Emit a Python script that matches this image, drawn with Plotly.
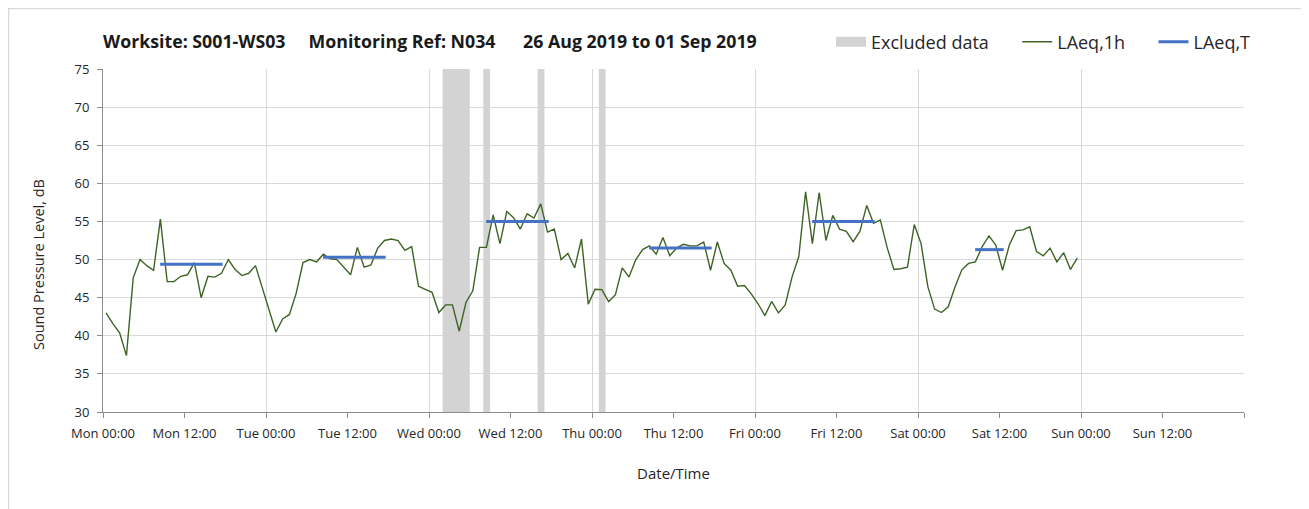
import pandas as pd
import plotly.graph_objects as go

# ---------------- data ----------------
start_time = "2019-08-26 00:27"
laeq_1h = [
    43.0, 41.6, 40.4, 37.4, 47.6, 50.0, 49.2, 48.6, 55.3, 47.1, 47.1, 47.8,
    48.0, 49.6, 45.0, 47.8, 47.7, 48.2, 50.0, 48.7, 47.9, 48.2, 49.2, 46.4,
    43.5, 40.5, 42.2, 42.8, 45.6, 49.6, 50.0, 49.7, 50.7, 50.1, 50.0, 49.0,
    48.0, 51.6, 49.0, 49.3, 51.5, 52.5, 52.7, 52.5, 51.2, 51.7, 46.5, 46.1,
    45.7, 43.05, 44.05, 44.05, 40.6, 44.4, 45.9, 51.6, 51.6, 55.85, 52.1, 56.3,
    55.5, 54.0, 56.0, 55.45, 57.3, 53.6, 54.0, 50.0, 50.8, 48.9, 52.7, 44.15,
    46.1, 46.05, 44.5, 45.4, 48.9, 47.7, 50.0, 51.3, 51.8, 50.7, 52.9, 50.5,
    51.5, 52.0, 51.8, 51.8, 52.3, 48.6, 52.3, 49.5, 48.6, 46.5, 46.6, 45.5,
    44.2, 42.65, 44.5, 43.0, 44.06, 47.7, 50.4, 58.9, 52.1, 58.8, 52.5, 55.8,
    54.0, 53.7, 52.35, 53.7, 57.1, 54.75, 55.2, 51.6, 48.7, 48.8, 49.0, 54.6,
    52.1, 46.45, 43.5, 43.05, 43.8, 46.4, 48.65, 49.5, 49.7, 51.7, 53.1, 51.9,
    48.6, 51.9, 53.8, 53.9, 54.3, 51.05, 50.5, 51.5, 49.7, 50.9, 48.7, 50.2,
]
laeq_1h_times = pd.date_range(start_time, periods=len(laeq_1h), freq="h")

laeq_t_start = ["2019-08-26 08:25", "2019-08-27 08:25", "2019-08-28 08:25",
                "2019-08-29 08:25", "2019-08-30 08:25", "2019-08-31 08:25"]
laeq_t_end = ["2019-08-26 17:37", "2019-08-27 17:37", "2019-08-28 17:37",
              "2019-08-29 17:37", "2019-08-30 17:37", "2019-08-31 12:37"]
laeq_t_values = [49.4, 50.3, 55.0, 51.5, 55.0, 51.3]

excluded_start = ["2019-08-28 02:00", "2019-08-28 08:00", "2019-08-28 16:00", "2019-08-29 01:00"]
excluded_hours = [4, 1, 1, 1]

x_range = ["2019-08-26 00:00", "2019-09-02 00:00"]
tick_times = pd.date_range("2019-08-26 00:00", "2019-09-02 00:00", freq="12h")
tick_labels = ["Mon 00:00", "Mon 12:00", "Tue 00:00", "Tue 12:00", "Wed 00:00",
               "Wed 12:00", "Thu 00:00", "Thu 12:00", "Fri 00:00", "Fri 12:00",
               "Sat 00:00", "Sat 12:00", "Sun 00:00", "Sun 12:00", ""]
y_min, y_max = 30, 75

NB = "\u00a0"
title_text = ("Worksite: S001-WS03" + NB * 5 + "Monitoring Ref: N034"
              + NB * 6 + "26 Aug 2019 to 01 Sep 2019")
y_title = "Sound Pressure Level, dB"
x_title = "Date/Time"

# ---------------- styling ----------------
FONT = "Open Sans"
GREEN = "#3E6325"
BLUE = "#4472C4"
GREY_FILL = "#D3D3D3"
GRID = "#D9D9D9"
AXIS = "#8C8C8C"
TEXT = "#262626"

W, H = 1301, 501
L, R, T, B = 95, 65, 61, 97
PW, PH = W - L - R, H - T - B

fig = go.Figure()

# Excluded data bars (legend shown via a wide-line proxy entry)
fig.add_trace(go.Bar(
    x=pd.to_datetime(excluded_start),
    y=[y_max - y_min] * len(excluded_start),
    base=y_min,
    width=[h * 3600 * 1000 for h in excluded_hours],
    offset=0,
    marker=dict(color=GREY_FILL, line=dict(width=0)),
    name="Excluded data", legendgroup="excl", showlegend=False,
    hoverinfo="skip",
))
fig.add_trace(go.Scatter(
    x=[None], y=[None], mode="lines",
    line=dict(color=GREY_FILL, width=12),
    name="Excluded data" + NB * 5, legendgroup="excl",
))

fig.add_trace(go.Scatter(
    x=laeq_1h_times, y=laeq_1h, mode="lines",
    line=dict(color=GREEN, width=1.4),
    name="LAeq,1h" + NB * 5,
))

bx, by = [], []
for s, e, v in zip(laeq_t_start, laeq_t_end, laeq_t_values):
    bx += [pd.Timestamp(s), pd.Timestamp(e), None]
    by += [v, v, None]
fig.add_trace(go.Scatter(
    x=bx, y=by, mode="lines",
    line=dict(color=BLUE, width=3),
    name="LAeq,T",
))

fig.add_trace(go.Scatter(
    x=[pd.Timestamp(x_range[0])], y=[None], xaxis="x2", mode="lines",
    showlegend=False, hoverinfo="skip",
))

fig.update_layout(
    width=W, height=H,
    paper_bgcolor="white", plot_bgcolor="white",
    margin=dict(l=L, r=R, t=T, b=B, autoexpand=False),
    font=dict(family=FONT, color=TEXT),
    barmode="overlay",
    title=dict(text="<b>" + title_text + "</b>", x=L / W, xanchor="left",
               y=1 - 34 / H, yanchor="middle", font=dict(size=17.75, color="#1a1a1a")),
    legend=dict(orientation="h", x=1.0105, xanchor="right", y=1.0787, yanchor="middle",
                font=dict(size=18, color=TEXT), bgcolor="rgba(0,0,0,0)",
                traceorder="normal", itemwidth=30),
    xaxis=dict(
        type="date", range=x_range, automargin=False,
        tickvals=tick_times, ticktext=tick_labels,
        ticks="outside", ticklen=5, tickcolor=AXIS, ticklabelstandoff=4,
        showline=True, linecolor=AXIS, linewidth=1,
        showgrid=False, zeroline=False,
        tickfont=dict(size=13, color=TEXT),
        title=dict(text=x_title, font=dict(size=15, color=TEXT), standoff=27),
    ),
    xaxis2=dict(
        type="date", range=x_range, overlaying="x", automargin=False,
        tick0="2019-08-26", dtick=86400000,
        showgrid=True, gridcolor=GRID, gridwidth=1,
        showticklabels=False, ticks="", showline=False, zeroline=False,
        side="bottom",
    ),
    yaxis=dict(
        range=[y_min, y_max], dtick=5, tick0=30, automargin=False,
        ticks="outside", ticklen=5, tickcolor=AXIS, ticklabelstandoff=5,
        showline=True, linecolor=AXIS, linewidth=1,
        showgrid=True, gridcolor=GRID, gridwidth=1, zeroline=False,
        tickfont=dict(size=13, color=TEXT),
    ),
    annotations=[dict(text=y_title, textangle=-90, xref="paper", yref="paper",
                      x=(30 - L) / PW, y=(PH + T - 257) / PH,
                      xanchor="center", yanchor="middle", showarrow=False,
                      font=dict(size=14.5, color=TEXT))],
    shapes=[dict(type="rect", xref="paper", yref="paper",
                 x0=(0.5 - L) / PW, x1=(1298 - L) / PW,
                 y0=(PH + T - 530) / PH, y1=(PH + T - 0.5) / PH,
                 line=dict(color=GRID, width=1.5), fillcolor="rgba(0,0,0,0)",
                 layer="below")],
)

fig.write_html("out.html")
